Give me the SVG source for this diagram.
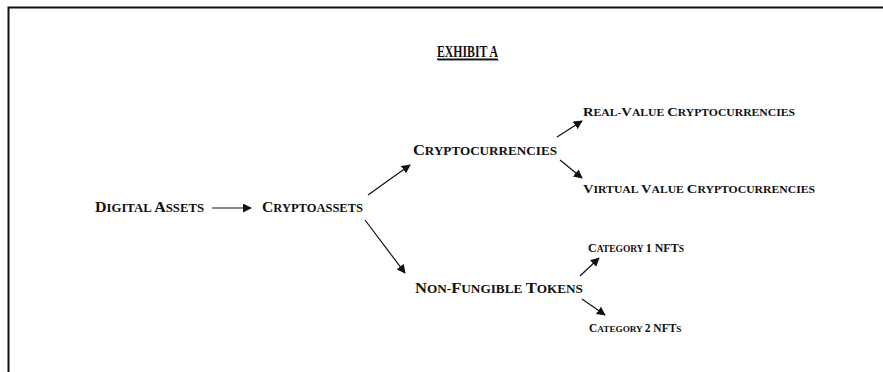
<svg xmlns="http://www.w3.org/2000/svg" width="883" height="372" viewBox="0 0 883 372">
  <style>
    .lbl { font-family: "Liberation Serif", "Times New Roman", serif; font-weight: bold; fill: #111; }
    .big { font-size: 15px; }
    .big .sc { font-size: 12px; }
    .small { font-size: 12.5px; }
    .small .sc { font-size: 10px; }
    .cat { font-size: 12px; }
    .cat .sc { font-size: 9.5px; }
    .cat2 { font-size: 11.5px; }
    .cat2 .sc { font-size: 9.2px; }
    .title { font-family: "Liberation Serif", "Times New Roman", serif; font-weight: bold; font-size: 17px; fill: #111; }
    .edge { stroke: #111; stroke-width: 1.2; fill: none; marker-end: url(#arrow); }
  </style>
  <defs>
    <marker id="arrow" viewBox="0 0 10 10" refX="9" refY="5" markerWidth="9" markerHeight="9" markerUnits="userSpaceOnUse" orient="auto">
      <path d="M0,0 L10,5 L0,10 z" fill="#111"/>
    </marker>
  </defs>

  <rect width="883" height="372" fill="#fff"/>
  <!-- page frame -->
  <path d="M8.5,372 V7.5 H883" fill="none" stroke="#111" stroke-width="2"/>

  <!-- heading -->
  <g id="title">
    <text class="title" x="437" y="57" textLength="61" lengthAdjust="spacingAndGlyphs">EXHIBIT A</text>
    <rect x="437" y="58.5" width="61" height="1.5" fill="#111"/>
    <rect x="438" y="60" width="61" height="1" fill="#999"/>
  </g>

  <!-- connectors -->
  <g id="connectors">
    <line class="edge" x1="212" y1="208" x2="251" y2="208"/>
    <line class="edge" x1="368" y1="195" x2="410" y2="165"/>
    <line class="edge" x1="365" y1="220" x2="405" y2="273"/>
    <line class="edge" x1="557" y1="137" x2="582" y2="121"/>
    <line class="edge" x1="560" y1="160" x2="582" y2="178"/>
    <line class="edge" x1="580" y1="276" x2="599" y2="258"/>
    <line class="edge" x1="582" y1="299" x2="605" y2="315"/>
  </g>

  <!-- nodes (small capitals set by hand) -->
  <g id="digital-assets">
    <text class="lbl big" x="95" y="212" textLength="109" lengthAdjust="spacingAndGlyphs">D<tspan class="sc">IGITAL </tspan>A<tspan class="sc">SSETS</tspan></text>
  </g>
  <g id="cryptoassets">
    <text class="lbl big" x="262" y="212" textLength="101" lengthAdjust="spacingAndGlyphs">C<tspan class="sc">RYPTOASSETS</tspan></text>
  </g>
  <g id="cryptocurrencies">
    <text class="lbl big" x="413" y="155" textLength="144" lengthAdjust="spacingAndGlyphs">C<tspan class="sc">RYPTOCURRENCIES</tspan></text>
  </g>
  <g id="non-fungible-tokens">
    <text class="lbl big" x="415" y="293" textLength="168" lengthAdjust="spacingAndGlyphs">N<tspan class="sc">ON-</tspan>F<tspan class="sc">UNGIBLE </tspan>T<tspan class="sc">OKENS</tspan></text>
  </g>
  <g id="real-value">
    <text class="lbl small" x="583" y="116" textLength="212" lengthAdjust="spacingAndGlyphs">R<tspan class="sc">EAL-</tspan>V<tspan class="sc">ALUE </tspan>C<tspan class="sc">RYPTOCURRENCIES</tspan></text>
  </g>
  <g id="virtual-value">
    <text class="lbl small" x="583" y="193" textLength="232" lengthAdjust="spacingAndGlyphs">V<tspan class="sc">IRTUAL </tspan>V<tspan class="sc">ALUE </tspan>C<tspan class="sc">RYPTOCURRENCIES</tspan></text>
  </g>
  <g id="category-1">
    <text class="lbl cat" x="588" y="252">C<tspan class="sc">ATEGORY </tspan>1 NFT<tspan class="sc">S</tspan></text>
  </g>
  <g id="category-2">
    <text class="lbl cat2" x="589" y="332">C<tspan class="sc">ATEGORY </tspan>2 NFT<tspan class="sc">S</tspan></text>
  </g>
</svg>
